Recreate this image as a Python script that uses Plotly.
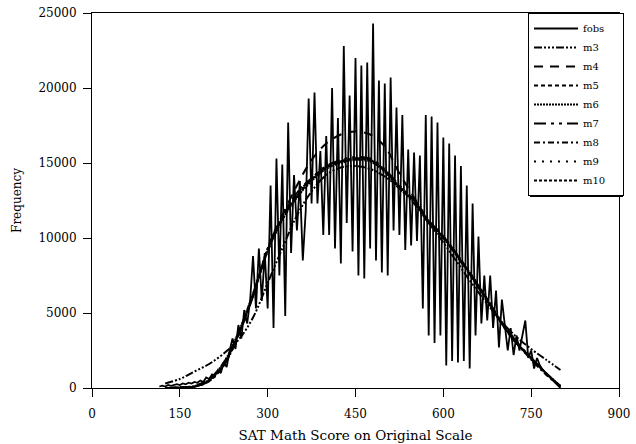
import plotly.graph_objects as go

# Observed frequencies (fobs), score grid every 5 points from 115 to 800
fobs = [100, 150, 100, 200, 150, 200, 250, 200, 300, 250, 350, 300, 400, 350, 500, 400,
        700, 600, 900, 800, 1200, 1000, 1700, 1400, 2500, 3300, 2600, 4200, 3300, 5200,
        4300, 5800, 8800, 5300, 9300, 5800, 9000, 5300, 13500, 4000, 15300, 7500, 14900,
        4800, 17700, 9000, 14200, 10500, 13800, 8500, 11800, 19300, 12300, 19700, 12300,
        15800, 10200, 16800, 10200, 20000, 9300, 18000, 8300, 22800, 11000, 19500, 9100,
        22000, 7500, 21500, 7300, 21700, 9300, 24300, 8500, 20500, 7700, 20300, 7500,
        20700, 10500, 18700, 10200, 18200, 9200, 15900, 9500, 15700, 9800, 15500, 5300,
        18200, 3500, 18100, 3000, 17700, 3500, 16700, 1500, 16300, 1800, 15500, 1700,
        14800, 1800, 13500, 1300, 12300, 3500, 10100, 4300, 7500, 4500, 7500, 4000, 6500,
        2700, 5900, 4000, 2500, 4000, 2200, 3500, 2500, 3500, 4500, 2000, 2500, 1300, 2000,
        1500, 1200, 1000, 800, 600, 400, 200, 0]
fobs_x = [115 + 5 * i for i in range(len(fobs))]

# Fitted (smoothed) curves at scores 125..800 every 25
fit_x = [125, 150, 175, 200, 225, 250, 275, 300, 325, 350, 375, 400, 425, 450,
         475, 500, 525, 550, 575, 600, 625, 650, 675, 700, 725, 750, 775, 800]
m3 = [300, 600, 1100, 1600, 2300, 3200, 4700, 7000, 9300, 11500, 13100, 14200, 14700, 14800,
      14600, 14100, 13300, 12300, 11000, 9700, 8300, 6900, 5600, 4400, 3400, 2600, 1900, 1200]
m4 = [0, 30, 150, 600, 1700, 3600, 6200, 9200, 11500, 13500, 15200, 16300, 16900, 17100,
      16900, 16100, 14300, 12700, 11100, 10000, 8700, 7300, 5800, 4300, 3000, 2000, 1000, 100]
m5 = [0, 30, 100, 500, 1600, 3600, 6200, 9200, 11300, 12800, 13900, 14700, 15100, 15300,
      15200, 14500, 13400, 12500, 11100, 10100, 8800, 7400, 5900, 4300, 3000, 2000, 1000, 100]
m6 = [0, 40, 120, 550, 1700, 3700, 6300, 9100, 11200, 12700, 13800, 14600, 15000, 15200,
      15100, 14400, 13300, 12400, 11000, 10000, 8700, 7300, 5800, 4300, 3000, 2000, 1000, 150]
m7 = [0, 30, 100, 450, 1500, 3500, 6100, 9300, 11400, 12900, 14000, 14800, 15200, 15400,
      15300, 14600, 13500, 12600, 11200, 10100, 8800, 7400, 5900, 4400, 3100, 2000, 1000, 100]
m8 = [0, 20, 90, 450, 1500, 3500, 6200, 9300, 11500, 13000, 14000, 14700, 15100, 15300,
      15200, 14500, 13400, 12500, 11100, 10100, 8800, 7400, 5900, 4300, 3000, 1900, 900, 100]
m9 = [0, 30, 110, 520, 1650, 3650, 6250, 9150, 11250, 12750, 13850, 14650, 15050, 15250,
      15150, 14450, 13350, 12450, 11050, 10050, 8750, 7350, 5850, 4250, 2950, 1950, 950, 100]
m10 = [0, 30, 100, 500, 1600, 3600, 6200, 9200, 11300, 12800, 13900, 14700, 15100, 15300,
       15200, 14500, 13400, 12500, 11100, 10100, 8800, 7400, 5900, 4300, 3000, 2000, 1000, 100]

x_ticks = [0, 150, 300, 450, 600, 750, 900]
y_ticks = [0, 5000, 10000, 15000, 20000, 25000]

FONT = "DejaVu Serif"
PAD = "\u00a0\u00a0\u00a0\u00a0"
fig = go.Figure()
fig.add_trace(go.Scatter(x=fobs_x, y=fobs, name="fobs" + PAD, mode="lines",
                         line=dict(color="black", width=1.8)))
curves = [
    ("m3", m3, "8px,2px,2px,2px,2px,2px,2px,2px"),
    ("m4", m4, "9px,7px"),
    ("m5", m5, "4px,3px"),
    ("m6", m6, "2px,1px"),
    ("m7", m7, "12px,5px,3px,5px,3px,5px"),
    ("m8", m8, "6px,3px,2px,3px"),
    ("m9", m9, "2px,6px"),
    ("m10", m10, "3px,2px"),
]
for name, ys, dash in curves:
    fig.add_trace(go.Scatter(x=fit_x, y=ys, name=name + PAD, mode="lines",
                             line=dict(color="black", width=2, dash=dash, shape="spline")))

L, R, T, B = 92, 17, 13, 56
W, H = 636, 444
pw, ph = W - L - R, H - T - B

# legend shadow (pixel geometry converted to paper coords)
lx0, lx1, ly0, ly1 = 528, 621, 13, 195
off = 2
fig.add_shape(type="rect", xref="paper", yref="paper",
              x0=(lx0 + off - L) / pw, x1=(lx1 + off - L) / pw,
              y0=(H - B - (ly1 + off)) / ph, y1=(H - B - (ly0 + off)) / ph,
              fillcolor="black", line=dict(width=0), layer="above")

fig.update_layout(
    width=W, height=H,
    margin=dict(l=L, r=R, t=T, b=B, autoexpand=False),
    paper_bgcolor="white", plot_bgcolor="white",
    font=dict(family=FONT, color="black", size=12),
    showlegend=True,
    legend=dict(x=(lx0 - L) / pw, y=(H - B - ly0) / ph, xanchor="left", yanchor="top",
                bgcolor="white", bordercolor="black", borderwidth=1,
                font=dict(family=FONT, size=10, color="black"),
                itemwidth=44, tracegroupgap=0),
    xaxis=dict(range=[0, 900], tickvals=x_ticks, ticktext=[str(v) for v in x_ticks],
               showgrid=False, zeroline=False, showline=True, linecolor="black",
               linewidth=1, mirror=True, ticks="outside", ticklen=8, tickcolor="black",
               ticklabelstandoff=7, tickfont=dict(size=12),
               title=dict(text="SAT Math Score on Original Scale", font=dict(size=13.5), standoff=10)),
    yaxis=dict(range=[0, 25000], tickvals=y_ticks, ticktext=[str(v) for v in y_ticks],
               showgrid=False, zeroline=False, showline=True, linecolor="black",
               linewidth=1, mirror=True, ticks="outside", ticklen=8, tickcolor="black",
               ticklabelstandoff=4, tickfont=dict(size=12),
               title=dict(text="Frequency", font=dict(size=12), standoff=14)),
)

fig.write_html("out.html", config={"displayModeBar": False},
               post_script="document.body.style.margin='0';document.body.style.padding='0';")
